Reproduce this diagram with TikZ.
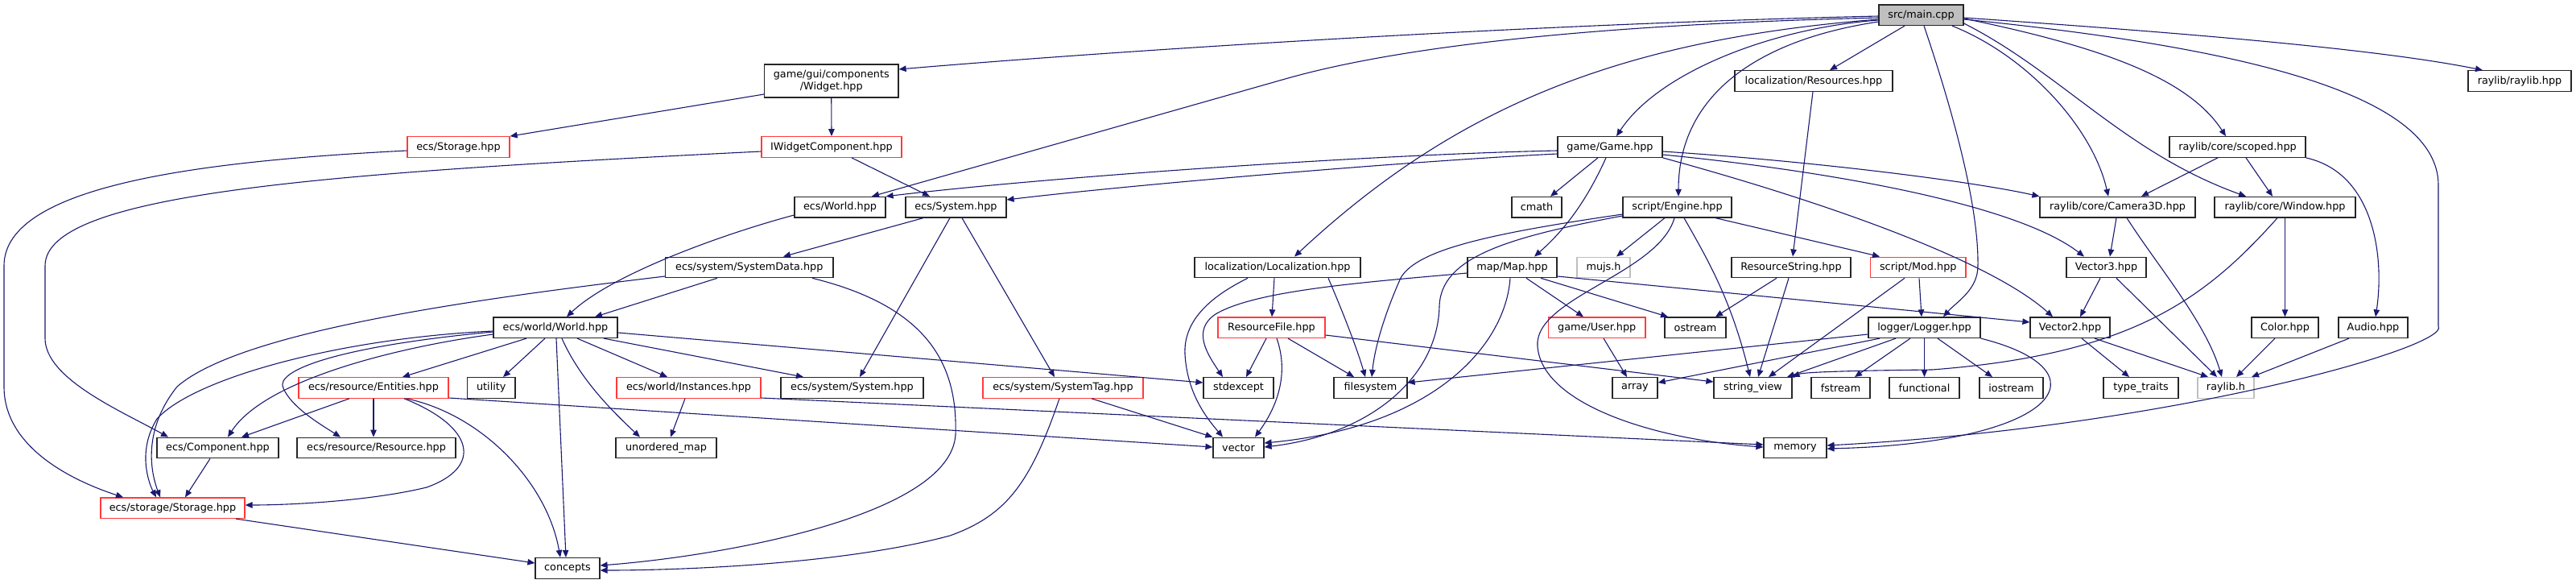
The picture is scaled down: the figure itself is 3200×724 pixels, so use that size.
\documentclass[tikz,border=0pt]{standalone}
\usepackage{fontspec}
\newfontfamily\dv{DejaVu Sans}
\usetikzlibrary{arrows.meta}
\definecolor{edgec}{HTML}{191970}
\definecolor{redb}{HTML}{FF3B3B}
\definecolor{grayb}{HTML}{BFBFBF}
\tikzset{
  box/.style={draw=black!85, line width=1.2pt, rectangle, inner sep=0pt, minimum height=25.6pt, font=\dv\fontsize{12.8}{15}\selectfont, text=black, fill=white},
  redbox/.style={box, draw=redb},
  graybox/.style={box, draw=grayb},
  e/.style={draw=edgec, line width=1.1pt, -{Triangle[length=9pt,width=7.5pt]}}
}
\begin{document}
\begin{tikzpicture}[x=1pt,y=-1pt]
\useasboundingbox (0,0) rectangle (3200,724);
% row 0
\node[box, minimum width=105pt, fill=grayb] (main) at (2386.5,18.7) {src/main.cpp};
% row 1
\node[box, minimum width=166.5pt, minimum height=41pt, align=center] (widget) at (1032.75,100.5) {game/gui/components\\/Widget.hpp};
\node[box, minimum width=196pt] (resources) at (2253,100.5) {localization/Resources.hpp};
\node[box, minimum width=128pt] (raylibhpp) at (3130,100.5) {raylib/raylib.hpp};
% row 2
\node[redbox, minimum width=127pt] (ecsstorage) at (569.5,182.5) {ecs/Storage.hpp};
\node[redbox, minimum width=174pt] (iwidget) at (1033,182.5) {IWidgetComponent.hpp};
\node[box, minimum width=130pt] (game) at (2000,182.5) {game/Game.hpp};
\node[box, minimum width=169pt] (scoped) at (2779.5,182.5) {raylib/core/scoped.hpp};
% row 3
\node[box, minimum width=113pt] (ecsworld) at (1043.5,257.2) {ecs/World.hpp};
\node[box, minimum width=125pt] (ecssystem) at (1187.5,257.2) {ecs/System.hpp};
\node[box, minimum width=62pt] (cmath) at (1909,257.2) {cmath};
\node[box, minimum width=135pt] (engine) at (2083.5,257.2) {script/Engine.hpp};
\node[box, minimum width=193pt] (camera) at (2630.5,257.2) {raylib/core/Camera3D.hpp};
\node[box, minimum width=175pt] (window) at (2838.5,257.2) {raylib/core/Window.hpp};
% row 4
\node[box, minimum width=208.5pt] (systemdata) at (930.75,331.9) {ecs/system/SystemData.hpp};
\node[box, minimum width=206pt] (localization) at (1587,331.9) {localization/Localization.hpp};
\node[box, minimum width=111pt] (map) at (1878.5,331.9) {map/Map.hpp};
\node[graybox, minimum width=66pt] (mujs) at (1992,331.9) {mujs.h};
\node[box, minimum width=148pt] (resstring) at (2225,331.9) {ResourceString.hpp};
\node[redbox, minimum width=118.5pt] (mod) at (2382.75,331.9) {script/Mod.hpp};
\node[box, minimum width=99pt] (vector3) at (2616.5,331.9) {Vector3.hpp};
% row 5
\node[box, minimum width=154pt] (world) at (690,406.7) {ecs/world/World.hpp};
\node[redbox, minimum width=133pt] (resfile) at (1579.5,406.7) {ResourceFile.hpp};
\node[redbox, minimum width=120.5pt] (user) at (1983.75,406.7) {game/User.hpp};
\node[box, minimum width=76pt] (ostream) at (2106,406.7) {ostream};
\node[box, minimum width=139pt] (logger) at (2390.5,406.7) {logger/Logger.hpp};
\node[box, minimum width=99pt] (vector2) at (2571.5,406.7) {Vector2.hpp};
\node[box, minimum width=83pt] (color) at (2838.5,406.7) {Color.hpp};
\node[box, minimum width=86pt] (audio) at (2948,406.7) {Audio.hpp};
% row 6
\node[redbox, minimum width=186pt] (entities) at (464,481.4) {ecs/resource/Entities.hpp};
\node[box, minimum width=59.4pt] (utility) at (610.3,481.4) {utility};
\node[redbox, minimum width=179pt] (instances) at (855.5,481.4) {ecs/world/Instances.hpp};
\node[box, minimum width=177pt] (syssystem) at (1058.5,481.4) {ecs/system/System.hpp};
\node[redbox, minimum width=199pt] (systemtag) at (1320.5,481.4) {ecs/system/SystemTag.hpp};
\node[box, minimum width=87pt] (stdexcept) at (1538.5,481.4) {stdexcept};
\node[box, minimum width=91pt] (filesystem) at (1702.5,481.4) {filesystem};
\node[box, minimum width=56pt] (array) at (2031,481.4) {array};
\node[box, minimum width=97pt] (stringview) at (2177.5,481.4) {string\_view};
\node[box, minimum width=73pt] (fstream) at (2286.5,481.4) {fstream};
\node[box, minimum width=87pt] (functional) at (2390.5,481.4) {functional};
\node[box, minimum width=79pt] (iostream) at (2498.5,481.4) {iostream};
\node[box, minimum width=93pt] (typetraits) at (2659.5,481.4) {type\_traits};
\node[graybox, minimum width=70pt] (raylibh) at (2765,481.4) {raylib.h};
% row 7
\node[box, minimum width=151pt] (component) at (270.5,556) {ecs/Component.hpp};
\node[box, minimum width=197pt] (resource) at (467.5,556) {ecs/resource/Resource.hpp};
\node[box, minimum width=125pt] (umap) at (827.5,556) {unordered\_map};
\node[box, minimum width=63pt] (vector) at (1538.5,556) {vector};
\node[box, minimum width=78pt] (memory) at (2230,556) {memory};
% row 8
\node[redbox, minimum width=179pt] (storage) at (214.5,630.7) {ecs/storage/Storage.hpp};
% row 9
\node[box, minimum width=80pt] (concepts) at (705,705.3) {concepts};

% ---- edges from main
\draw[e] (main.west |- 0,20) .. controls (1900,30) and (1400,62) .. (widget.east |- 0,86);
\draw[e] (main.west |- 0,22) .. controls (2000,30) and (1750,55) .. (1600,97) -- (ecsworld.north -| 1083,0);
\draw[e] (main.west |- 0,24) .. controls (2000,50) and (1800,140) .. (localization.north -| 1608,0);
\draw[e] (main.west |- 0,25) .. controls (2200,35) and (2060,90) .. (game.north -| 2008,0);
\draw[e] (main.west |- 0,27) .. controls (2180,50) and (2085,120) .. (engine.north -| 2085,0);
\draw[e] (main.south -| 2366,0) -- (resources.north -| 2273,0);
\draw[e] (main.south -| 2390,0) .. controls (2430,150) and (2458,260) .. (2457,330) .. controls (2457,360) and (2430,375) .. (logger.north -| 2414,0);
\draw[e] (main.south -| 2425,0) .. controls (2520,70) and (2600,160) .. (camera.north -| 2619,0);
\draw[e] (main.east |- 0,29) .. controls (2560,90) and (2640,190) .. (window.north -| 2790,0);
\draw[e] (main.east |- 0,23) .. controls (2620,60) and (2720,100) .. (scoped.north -| 2765,0);
\draw[e] (main.east |- 0,22) .. controls (2700,40) and (2950,60) .. (raylibhpp.north -| 3084,0);
\draw[e] (main.east |- 0,24) .. controls (2800,60) and (3029,120) .. (3029,230) -- (3029,405) .. controls (3045,430) and (2700,530) .. (memory.east |- 0,553);

% ---- Game
\draw[e] (game.west |- 0,187) .. controls (1700,192) and (1300,220) .. (ecsworld.north east);
\draw[e] (game.west |- 0,191) .. controls (1750,200) and (1400,230) .. (ecssystem.east |- 0,248);
\draw[e] (game.south -| 1985,0) -- (cmath.north -| 1926,0);
\draw[e] (game.south -| 1995,0) .. controls (1975,240) and (1950,280) .. (map.north -| 1906,0);
\draw[e] (game.east |- 0,188) .. controls (2250,200) and (2450,225) .. (camera.north west);
\draw[e] (game.east |- 0,192) .. controls (2250,210) and (2500,250) .. (vector3.north -| 2589,0);
\draw[e] (game.south east) .. controls (2300,260) and (2480,330) .. (vector2.north -| 2550,0);

% ---- Engine
\draw[e] (engine.south -| 2068,0) -- (mujs.north -| 2008,0);
\draw[e] (engine.south -| 2131,0) -- (mod.north -| 2335,0);
\draw[e] (engine.west |- 0,266) .. controls (1850,290) and (1760,310) .. (1740,345) .. controls (1720,390) and (1708,430) .. (filesystem.north -| 1704,0);
\draw[e] (engine.west |- 0,268) .. controls (1870,295) and (1790,320) .. (1788,380) .. controls (1786,470) and (1700,540) .. (vector.east |- 0,555);
\draw[e] (engine.south -| 2092,0) .. controls (2120,320) and (2150,370) .. (stringview.north -| 2174,0);
\draw[e] (engine.south -| 2080,0) .. controls (2060,340) and (1905,370) .. (1910,430) .. controls (1915,500) and (2050,545) .. (memory.west |- 0,555);

% ---- Map
\draw[e] (map.east |- 0,343) -- (vector2.west |- 0,400);
\draw[e] (map.south -| 1896,0) -- (user.north -| 1967,0);
\draw[e] (map.south -| 1914,0) -- (ostream.north -| 2072,0);
\draw[e] (map.west |- 0,339) .. controls (1700,350) and (1560,360) .. (1510,390) .. controls (1480,410) and (1500,440) .. (stdexcept.north -| 1519,0);
\draw[e] (map.south -| 1876,0) .. controls (1870,430) and (1780,530) .. (vector.east |- 0,550);

% ---- ResourceString / Resources / Mod
\draw[e] (resstring.south -| 2207,0) -- (ostream.north -| 2131,0);
\draw[e] (resstring.south -| 2222,0) -- (stringview.north -| 2184,0);
\draw[e] (resources.south -| 2252,0) -- (resstring.north -| 2227,0);
\draw[e] (mod.south -| 2384,0) -- (logger.north -| 2387,0);
\draw[e] (mod.south -| 2366,0) -- (stringview.north -| 2197,0);

% ---- Logger
\draw[e] (logger.west |- 0,415) -- (filesystem.east |- 0,475);
\draw[e] (logger.south -| 2335,0) -- (array.east |- 0,475);
\draw[e] (logger.south -| 2355,0) -- (stringview.north -| 2220,0);
\draw[e] (logger.south -| 2373,0) -- (fstream.north -| 2304,0);
\draw[e] (logger.south) -- (functional.north);
\draw[e] (logger.south -| 2407,0) -- (iostream.north -| 2475,0);
\draw[e] (logger.south east) .. controls (2620,460) and (2560,550) .. (memory.east |- 0,557);

% ---- Vector / raylib
\draw[e] (vector2.south -| 2586,0) -- (typetraits.north -| 2645,0);
\draw[e] (vector2.south -| 2602,0) -- (raylibh.north -| 2743,0);
\draw[e] (vector3.south -| 2609,0) -- (vector2.north -| 2584,0);
\draw[e] (vector3.south -| 2629,0) -- (raylibh.north -| 2754,0);
\draw[e] (camera.south -| 2629,0) -- (vector3.north -| 2621,0);
\draw[e] (camera.south -| 2642,0) .. controls (2680,330) and (2740,400) .. (raylibh.north -| 2760,0);
\draw[e] (scoped.south -| 2755,0) -- (camera.north -| 2660,0);
\draw[e] (scoped.south -| 2790,0) -- (window.north -| 2823,0);
\draw[e] (scoped.south east) .. controls (2950,215) and (2962,320) .. (audio.north -| 2951,0);
\draw[e] (window.south) -- (color.north);
\draw[e] (window.south -| 2829,0) .. controls (2740,370) and (2650,440) .. (2400,459) .. controls (2300,460) and (2240,462) .. (stringview.north east);
\draw[e] (color.south -| 2826,0) -- (raylibh.north -| 2778,0);
\draw[e] (audio.south -| 2918,0) -- (raylibh.north -| 2797,0);

% ---- Localization / ResourceFile / User
\draw[e] (localization.south -| 1583,0) -- (resfile.north -| 1580,0);
\draw[e] (localization.south -| 1550,0) .. controls (1500,370) and (1470,400) .. (1472,440) .. controls (1475,490) and (1500,520) .. (vector.north -| 1519,0);
\draw[e] (localization.south -| 1650,0) .. controls (1665,380) and (1685,430) .. (filesystem.north -| 1696,0);
\draw[e] (resfile.south -| 1573,0) -- (stdexcept.north -| 1548,0);
\draw[e] (resfile.south -| 1586,0) .. controls (1600,460) and (1590,500) .. (vector.north -| 1559,0);
\draw[e] (resfile.south -| 1600,0) -- (filesystem.north -| 1682,0);
\draw[e] (resfile.east |- 0,416) -- (stringview.west |- 0,474);
\draw[e] (user.south -| 1992,0) -- (array.north -| 2021,0);

% ---- ECS part
\draw[e] (widget.south) -- (iwidget.north);
\draw[e] (widget.west |- 0,117) -- (ecsstorage.north east);
\draw[e] (iwidget.south -| 1058,0) -- (ecssystem.north -| 1155,0);
\draw[e] (iwidget.west |- 0,188) .. controls (400,215) and (56,240) .. (56,330) -- (56,420) .. controls (56,470) and (150,510) .. (component.north -| 209,0);
\draw[e] (ecsstorage.west |- 0,187) .. controls (250,200) and (5,230) .. (5,330) -- (5,480) .. controls (5,560) and (100,600) .. (storage.north -| 153,0);
\draw[e] (ecssystem.south -| 1147,0) -- (systemdata.north -| 973,0);
\draw[e] (ecssystem.south -| 1180,0) -- (syssystem.north -| 1068,0);
\draw[e] (ecssystem.south -| 1195,0) -- (systemtag.north -| 1310,0);
\draw[e] (ecsworld.west |- 0,267) .. controls (900,290) and (760,340) .. (world.north -| 704,0);
\draw[e] (systemdata.south -| 891,0) -- (world.north -| 739,0);
\draw[e] (systemdata.west |- 0,343) .. controls (600,370) and (300,410) .. (220,480) .. controls (180,530) and (185,580) .. (storage.north -| 199,0);
\draw[e] (systemdata.south -| 1009,0) .. controls (1150,380) and (1190,450) .. (1187,540) .. controls (1180,640) and (900,690) .. (concepts.east |- 0,702);

\draw[e] (world.south -| 654,0) -- (entities.north -| 500,0);
\draw[e] (world.south -| 677,0) -- (utility.north -| 625,0);
\draw[e] (world.south -| 717,0) -- (instances.north -| 829,0);
\draw[e] (world.south -| 750,0) -- (syssystem.north -| 998,0);
\draw[e] (world.east |- 0,413) -- (stdexcept.west |- 0,475);
\draw[e] (world.south -| 691,0) -- (concepts.north -| 703,0);
\draw[e] (world.south -| 698,0) .. controls (720,470) and (760,510) .. (umap.north -| 795,0);
\draw[e] (world.west |- 0,415) .. controls (500,430) and (330,470) .. (component.north -| 283,0);
\draw[e] (world.west |- 0,412) .. controls (420,430) and (340,460) .. (352,482) .. controls (362,505) and (395,525) .. (resource.north -| 423,0);
\draw[e] (world.west |- 0,411) .. controls (420,420) and (240,470) .. (195,520) .. controls (170,560) and (185,600) .. (storage.north -| 194,0);

\draw[e] (entities.south -| 434,0) -- (component.north -| 300,0);
\draw[e] (entities.south) -- (entities.south |- resource.north);
\draw[e] (entities.south -| 502,0) .. controls (590,530) and (600,580) .. (530,605) .. controls (460,622) and (360,627) .. (storage.east |- 0,627);
\draw[e] (entities.south -| 505,0) .. controls (600,515) and (680,600) .. (concepts.north -| 696,0);
\draw[e] (entities.east |- 0,494) -- (vector.west |- 0,555);
\draw[e] (instances.south -| 851,0) -- (umap.north -| 833,0);
\draw[e] (instances.east |- 0,494) -- (memory.west |- 0,552);
\draw[e] (systemtag.south -| 1356,0) -- (vector.north west);
\draw[e] (systemtag.south -| 1316,0) .. controls (1280,600) and (1250,640) .. (1180,665) .. controls (1050,700) and (850,708) .. (concepts.east |- 0,708);
\draw[e] (component.south -| 261,0) -- (storage.north -| 230,0);
\draw[e] (storage.south -| 293,0) -- (concepts.west |- 0,699);
\end{tikzpicture}
\end{document}
